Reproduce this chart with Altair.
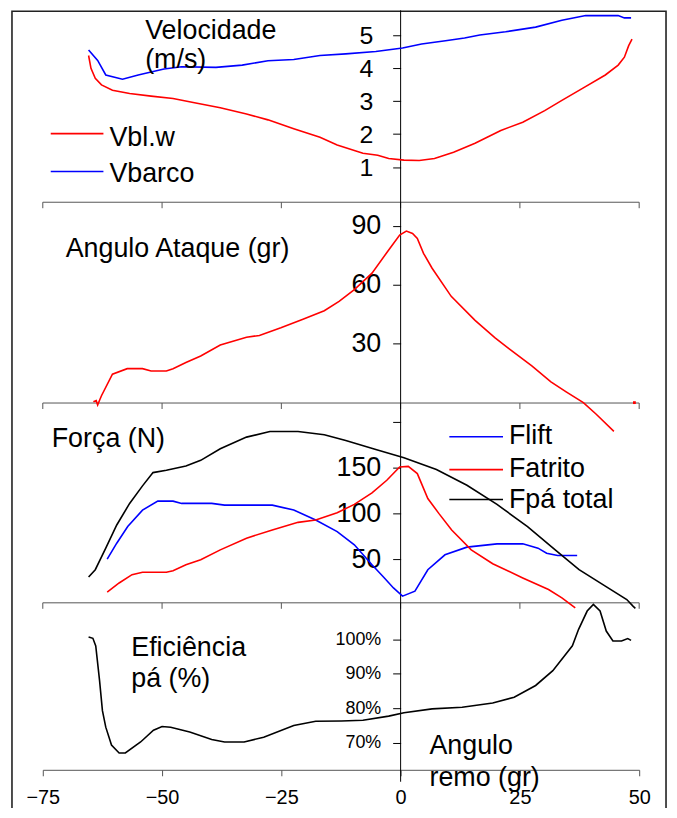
import altair as alt
import pandas as pd

FONT = "Liberation Sans"
RED, BLUE, BLACK = "#ff0000", "#0000ff", "#000000"
GRAY = "#555555"

x_ticks = [-75, -50, -25, 0, 25, 50]

# ---- Panel 1: Velocidade (m/s)
v_names = ["Vbl.w", "Vbarco"]
v_colors = [RED, BLUE]
v_ticks = [1, 2, 3, 4, 5]
vblw_x = [-65.4, -64.9, -64.0, -62.7, -60.4, -56.8, -52.3, -47.7, -43.2, -37.8,
          -32.3, -27.8, -22.4, -16.9, -13.3, -7.9, -4.8, -2.5, 0.7, 3.9,
          7.1, 11.1, 15.6, 21.0, 25.6, 30.2, 33.8, 38.3, 42.9, 45.6,
          46.9, 47.8, 48.5]
vblw_y = [4.38, 3.99, 3.69, 3.49, 3.33, 3.23, 3.15, 3.08, 2.95, 2.80,
          2.61, 2.43, 2.16, 1.90, 1.67, 1.42, 1.36, 1.26, 1.21, 1.20,
          1.26, 1.45, 1.72, 2.11, 2.36, 2.71, 3.02, 3.40, 3.79, 4.09,
          4.33, 4.68, 4.88]
vbarco_x = [-65.4, -63.5, -61.8, -58.3, -55.0, -49.6, -45.9, -38.7, -33.2, -27.8,
            -22.4, -16.9, -11.5, -5.2, 0.4, 4.4, 9.4, 13.4, 16.6, 22.0,
            28.3, 33.8, 38.8, 45.6, 46.9, 48.3]
vbarco_y = [4.55, 4.23, 3.79, 3.66, 3.79, 3.97, 4.04, 4.02, 4.09, 4.22,
            4.26, 4.38, 4.43, 4.50, 4.61, 4.73, 4.83, 4.91, 5.00, 5.10,
            5.24, 5.45, 5.59, 5.59, 5.52, 5.52]

# ---- Panel 2: Angulo Ataque (gr)
a_ticks = [30, 60, 90]
ataque_x = [-64.4, -63.8, -63.5, -63.1, -62.7, -60.4, -57.3, -54.1, -52.3, -49.1,
            -47.7, -45.0, -41.9, -37.8, -32.3, -29.6, -25.1, -20.6, -16.0, -12.9,
            -9.7, -6.0, -2.5, -0.2, 1.2, 2.5, 3.5, 4.8, 6.6, 10.6,
            15.6, 19.8, 22.9, 27.5, 31.5, 34.7, 38.3, 41.0, 44.7]
ataque_y = [0.4, 1.0, -1.2, 1.2, 3.5, 14.5, 17.3, 17.3, 16.1, 16.1,
            17.3, 20.4, 23.7, 29.3, 33.3, 34.2, 38.1, 42.3, 46.8, 51.5,
            57.5, 65.9, 77.7, 85.3, 87.3, 86.1, 83.6, 76.0, 68.4, 54.1,
            41.9, 33.0, 27.1, 18.7, 10.6, 5.5, 0.0, -5.9, -14.6]
ataque_dot_x = [49.0]
ataque_dot_y = [0.0]

# ---- Panel 3: Força (N)
f_names = ["Flift", "Fatrito", "Fpá total"]
f_colors = [BLUE, RED, BLACK]
f_ticks = [50, 100, 150, 200]
flift_x = [-61.5, -59.5, -57.2, -54.1, -50.9, -47.7, -45.9, -39.6, -36.9, -26.9,
           -22.4, -17.8, -13.3, -9.7, -6.0, -3.4, -1.5, 0.4, 3.0, 5.7,
           9.3, 13.9, 20.2, 25.6, 28.8, 30.6, 32.9, 37.0]
flift_y = [50.3, 67.7, 85.9, 103.9, 113.7, 113.7, 111.2, 111.2, 109.3, 109.3,
           103.9, 93.0, 80.4, 65.9, 44.1, 29.7, 18.8, 9.8, 15.2, 38.7,
           55.0, 63.4, 67.0, 67.0, 62.3, 56.8, 54.3, 54.3]
fatrito_x = [-61.5, -59.0, -56.3, -54.1, -49.1, -47.7, -45.0, -41.9, -37.8, -32.3,
             -26.9, -21.5, -17.8, -13.3, -9.7, -6.0, -2.9, -0.2, 1.6, 3.5,
             5.7, 8.0, 10.7, 14.8, 19.3, 25.6, 31.0, 33.8, 36.6]
fatrito_y = [14.1, 24.2, 33.3, 35.9, 35.9, 37.6, 44.1, 49.6, 60.4, 73.2,
             82.2, 90.5, 93.0, 101.1, 110.1, 122.8, 136.5, 151.1, 151.7, 143.8,
             116.6, 100.3, 82.2, 60.4, 45.2, 29.7, 17.0, 7.9, -3.0]
fpa_x = [-65.4, -64.0, -61.8, -59.5, -56.8, -54.1, -51.9, -49.1, -45.0, -41.9,
         -37.8, -32.3, -27.4, -21.5, -16.0, -11.5, -5.2, 0.7, 7.5, 13.9,
         20.2, 26.6, 32.4, 37.4, 42.9, 47.4, 48.7, 49.2]
fpa_y = [30.8, 38.7, 62.3, 87.6, 111.2, 130.4, 144.9, 147.4, 152.2, 158.3,
         171.0, 183.7, 189.8, 189.8, 186.2, 180.0, 170.2, 161.2, 148.2, 131.1,
         110.1, 85.9, 60.4, 38.7, 20.7, 6.1, -1.1, -3.5]

# ---- Panel 4: Eficiência pá (%)
e_ticks = [0.7, 0.8, 0.9, 1.0]
efic_x = [-65.4, -64.5, -63.9, -63.1, -62.5, -61.8, -60.6, -59.0, -57.7, -54.5,
          -51.8, -50.0, -48.2, -44.2, -39.6, -36.9, -32.8, -28.7, -22.4, -17.8,
          -12.4, -7.9, -2.5, 0.7, 6.6, 12.9, 19.3, 23.8, 28.3, 31.9,
          36.0, 37.3, 39.1, 40.4, 41.8, 43.1, 44.5, 46.3, 47.6, 48.3]
efic_pct = [100.7, 100.3, 98.1, 88.0, 79.3, 74.5, 69.3, 67.0, 67.0, 70.2,
            73.6, 74.7, 74.5, 73.1, 70.9, 70.2, 70.2, 71.6, 75.0, 76.2,
            76.3, 76.5, 77.7, 78.7, 79.8, 80.3, 81.5, 83.2, 86.6, 90.9,
            98.1, 102.9, 108.2, 110.1, 108.2, 102.4, 99.5, 99.5, 100.2, 99.7]


def long_df(names, xs, ys):
    rows = []
    for n, xx, yy in zip(names, xs, ys):
        for i, (a, b) in enumerate(zip(xx, yy)):
            rows.append({"serie": n, "x": a, "y": b, "i": i})
    return pd.DataFrame(rows)


one = pd.DataFrame({"k": [0]})

x_scale = alt.Scale(domain=[x_ticks[0], x_ticks[-1]], nice=False, zero=False)
x_axis = alt.Axis(values=x_ticks, domainColor=GRAY, tickColor=GRAY, tickSize=6,
                  labelFontSize=20, labelPadding=12, labelColor="black",
                  labelFlush=False, grid=False, title=None)
X = alt.X("x:Q", scale=x_scale, axis=x_axis)


def y_axis(values, size, pad, fmt=None, expr=None):
    kw = dict(orient="left", offset=-360, values=values, domain=False, grid=False,
              tickSize=8, tickColor="black", labelFontSize=size, labelPadding=pad,
              labelColor="black", title=None)
    if fmt:
        kw["format"] = fmt
    if expr:
        kw["labelExpr"] = expr
    return alt.Axis(**kw)


# panel 1
Y1 = alt.Y("y:Q", scale=alt.Scale(domain=[0, 5], range=[190.8, 24.8], nice=False, zero=False),
           axis=y_axis(v_ticks, 25, 20))
p1 = alt.Chart(long_df(v_names, [vblw_x, vbarco_x], [vblw_y, vbarco_y])).mark_line(strokeWidth=1.6).encode(
    x=X, y=Y1,
    color=alt.Color("serie:N", scale=alt.Scale(domain=v_names, range=v_colors), legend=None),
    order="i:Q",
)

# panel 2
Y2 = alt.Y("y:Q", scale=alt.Scale(domain=[0, 90], range=[394.6, 216.7], nice=False, zero=False),
           axis=y_axis(a_ticks, 27, 12))
p2_line = alt.Chart(pd.DataFrame({"x": ataque_x, "y": ataque_y, "i": range(len(ataque_x))})).mark_line(
    color=RED, strokeWidth=1.6).encode(x=X, y=Y2, order="i:Q")
p2_dot = alt.Chart(pd.DataFrame({"x": ataque_dot_x, "y": ataque_dot_y})).mark_square(
    color=RED, size=8, opacity=1).encode(x=X, y=Y2)
p2 = alt.layer(p2_line, p2_dot)

# panel 3
Y3 = alt.Y("y:Q", scale=alt.Scale(domain=[0, 200], range=[598.3, 414.3], nice=False, zero=False),
           axis=y_axis(f_ticks, 27, 12, expr="datum.value == 200 ? '' : datum.label"))
p3 = alt.Chart(long_df(f_names, [flift_x, fatrito_x, fpa_x], [flift_y, fatrito_y, fpa_y])).mark_line(
    strokeWidth=1.6).encode(
    x=X, y=Y3,
    color=alt.Color("serie:N", scale=alt.Scale(domain=f_names, range=f_colors), legend=None),
    order="i:Q",
)

# panel 4
Y4 = alt.Y("y:Q", scale=alt.Scale(domain=[0.7, 1.0], range=[736.7, 632.7], nice=False, zero=False),
           axis=y_axis(e_ticks, 18, 12, fmt=".0%"))
p4 = alt.Chart(pd.DataFrame({"x": efic_x, "y": [v / 100 for v in efic_pct],
                             "i": range(len(efic_x))})).mark_line(color=BLACK, strokeWidth=1.6).encode(
    x=X, y=Y4, order="i:Q")

# decorations
deco = []
deco.append(alt.Chart(one).mark_rect(fillOpacity=0, stroke="#222222", strokeWidth=1.6).encode(
    x=alt.value(-31), x2=alt.value(627), y=alt.value(0.8), y2=alt.value(1000)))
tick_df = pd.DataFrame({"x": x_ticks})
for sy in [193, 395, 596]:
    deco.append(alt.Chart(one).mark_rule(color=GRAY, strokeWidth=1).encode(
        x=alt.datum(x_ticks[0]), x2=alt.datum(x_ticks[-1]), y=alt.value(sy)))
    deco.append(alt.Chart(tick_df).mark_rule(color=GRAY, strokeWidth=1).encode(
        x=X, y=alt.value(sy), y2=alt.value(sy + 6)))
deco.append(alt.Chart(one).mark_rule(color=BLACK, strokeWidth=1).encode(
    x=alt.datum(0), y=alt.value(0), y2=alt.value(776)))

# legends
legend_layers = []
for name, col, ly, ty in zip(v_names, v_colors, [124, 162], [136, 173]):
    legend_layers.append(alt.Chart(one).mark_rule(color=col, strokeWidth=1.6).encode(
        x=alt.value(8), x2=alt.value(61), y=alt.value(ly)))
    legend_layers.append(alt.Chart(one).mark_text(text=name, align="left", baseline="alphabetic",
                                                  fontSize=27, font=FONT, color="black").encode(
        x=alt.value(67), y=alt.value(ty)))
for name, col, ly, ty in zip(f_names, f_colors, [429, 462, 492], [436, 469, 501]):
    legend_layers.append(alt.Chart(one).mark_rule(color=col, strokeWidth=1.6).encode(
        x=alt.value(409), x2=alt.value(463), y=alt.value(ly)))
    legend_layers.append(alt.Chart(one).mark_text(text=name, align="left", baseline="alphabetic",
                                                  fontSize=27, font=FONT, color="black").encode(
        x=alt.value(469), y=alt.value(ty)))

# panel titles
titles = [("Velocidade", 103, 29), ("(m/s)", 103, 58),
          ("Angulo Ataque (gr)", 23, 248), ("Força (N)", 9, 439),
          ("Eficiência", 89, 649), ("pá (%)", 89, 681),
          ("Angulo", 389, 748), ("remo (gr)", 389, 780)]
title_layers = [alt.Chart(one).mark_text(text=t, align="left", baseline="alphabetic", fontSize=27,
                                         font=FONT, color="black").encode(x=alt.value(tx), y=alt.value(ty))
                for t, tx, ty in titles]

chart = alt.layer(*deco, p1, p2, p3, p4, *legend_layers, *title_layers).resolve_scale(
    y="independent", color="independent"
).properties(
    width=600, height=764,
    autosize=alt.AutoSizeParams(type="none"),
    padding={"left": 35, "top": 0, "right": 30, "bottom": 36},
).configure_view(strokeWidth=0).configure_axis(
    labelFont=FONT, grid=False
).configure_text(font=FONT)

chart.save("out.html", embed_options={"renderer": "svg", "actions": False})
